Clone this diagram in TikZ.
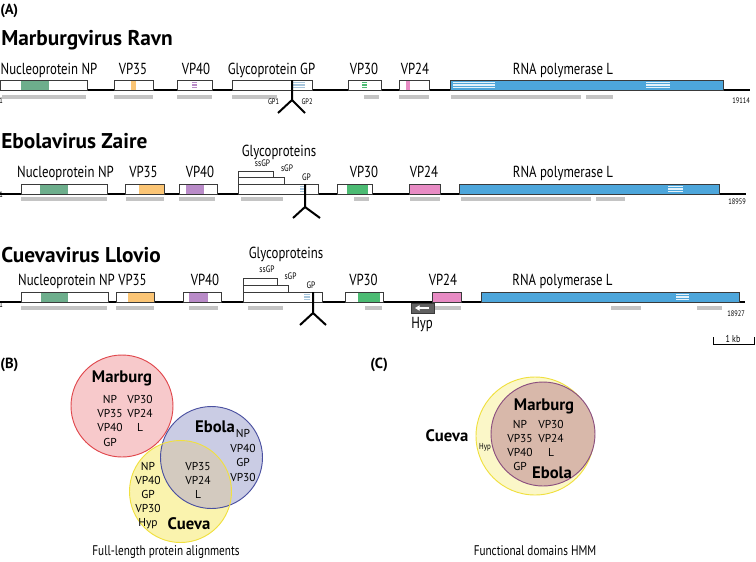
\documentclass[tikz,border=0pt]{standalone}
\usepackage{fontspec}
\setmainfont{PT Sans}
\newfontfamily\cnd{PT Sans}[FakeStretch=0.8]
\usetikzlibrary{arrows.meta}
\definecolor{npg}{HTML}{6DAE8C}
\definecolor{vpo}{HTML}{FBC575}
\definecolor{vpp}{HTML}{B98BC8}
\definecolor{gpb}{HTML}{A8C6DC}
\definecolor{vpg}{HTML}{4CBB73}
\definecolor{vpk}{HTML}{E88BC4}
\definecolor{lbl}{HTML}{4DA6DB}
\definecolor{barc}{HTML}{C4C4C4}
\definecolor{edgec}{HTML}{3A3A3A}
\definecolor{mbfill}{HTML}{F7C9CB}
\definecolor{mbline}{HTML}{E0474C}
\definecolor{ebfill}{HTML}{CACCE4}
\definecolor{ebline}{HTML}{4A50A0}
\definecolor{cvfill}{HTML}{FAF3AE}
\definecolor{cvline}{HTML}{F0E040}
\definecolor{ecfill}{HTML}{D3CABF}
\definecolor{cfill}{HTML}{FBF7C8}
\definecolor{brfill}{HTML}{D8B8AA}
\definecolor{brline}{HTML}{8A4E7E}
\newcommand\stripes[4]{\foreach \sy in {2.5,5,7.5}{\draw[#4,line width=0.8pt] (#1,#3+\sy) -- (#2,#3+\sy);}}
\newcommand\gbar[3]{\draw[graybar] (#1,#3) -- (#2,#3);}
\tikzset{
  gline/.style={line width=0.9pt,draw=black},
  genebox/.style={draw=edgec,line width=0.6pt},
  graybar/.style={draw=barc,line width=2.4pt},
  antib/.style={line width=1.5pt,draw=black},
  titlefont/.style={font=\bfseries\fontsize{16}{18}\selectfont,anchor=base west,inner sep=0pt},
  genelab/.style={font=\cnd\fontsize{12}{14}\selectfont,anchor=base,inner sep=0pt},
  sublab/.style={font=\cnd\fontsize{7}{8}\selectfont,anchor=base,inner sep=0pt},
  tinylab/.style={font=\cnd\fontsize{6}{7}\selectfont,anchor=base,inner sep=0pt},
  vennlab/.style={font=\fontsize{8.6}{10}\selectfont,anchor=base,inner sep=0pt},
  vennbig/.style={font=\bfseries\fontsize{12.5}{15}\selectfont,anchor=base,inner sep=0pt},
  caplab/.style={font=\cnd\fontsize{10.5}{12}\selectfont,anchor=base,inner sep=0pt},
  panellab/.style={font=\bfseries\fontsize{11}{13}\selectfont,anchor=base west,inner sep=0pt},
}
\begin{document}
\begin{tikzpicture}[x=0.75pt,y=-0.75pt]
\useasboundingbox (0,0) rectangle (756,561);
% ---------- (A)
\node[panellab] (pA) at (0,14) {(A)};
% ================= Marburg =================
\node[titlefont] (tM) at (1,45) {Marburgvirus Ravn};
\draw[gline] (0,90) -- (750,90);
% NP
\fill[white] (0,80) rectangle (87,90); \fill[npg] (21,80) rectangle (49,90); \draw[genebox] (0,80) rectangle (87,90);
% VP35
\fill[white] (114,80) rectangle (153,90); \fill[vpo] (131,80) rectangle (136,90); \draw[genebox] (114,80) rectangle (153,90);
% VP40
\fill[white] (177,80) rectangle (212,90); \stripes{192}{197}{80}{vpp} \draw[genebox] (177,80) rectangle (212,90);
% GP
\fill[white] (232,80) rectangle (312,90); \stripes{293}{305}{80}{gpb} \draw[genebox] (232,80) rectangle (312,90);
% VP30
\fill[white] (348,80) rectangle (381,90); \stripes{362}{367}{80}{vpg} \draw[genebox] (348,80) rectangle (381,90);
% VP24
\fill[white] (399,80) rectangle (429,90); \fill[vpk] (406,80) rectangle (410,90); \draw[genebox] (399,80) rectangle (429,90);
% L
\fill[lbl] (450,80) rectangle (723,90); \stripes{453}{495}{80}{white!85!lbl} \stripes{646}{670}{80}{white!85!lbl} \draw[genebox] (450,80) rectangle (723,90);
% bars
\gbar{2}{86}{97} \gbar{114}{153}{97} \gbar{177}{212}{97} \gbar{232}{277}{97} \gbar{364}{379}{97} \gbar{399}{429}{97} \gbar{451}{581}{97} \gbar{586}{613}{97}
% antibody
\coordinate (mA0) at (292,80); \coordinate (mA1) at (292,100); \coordinate (mA2) at (278,113); \coordinate (mA3) at (305,113);
\draw[antib] (mA0) -- (mA1) -- (mA2); \draw[antib] (mA1) -- (mA3);
% labels
\node[genelab] (mNP) at (49,74) {Nucleoprotein NP};
\node[genelab] (m35) at (133,74) {VP35};
\node[genelab] (m40) at (196,74) {VP40};
\node[genelab] (mGP) at (271.5,74) {Glycoprotein GP};
\node[genelab] (m30) at (364,74) {VP30};
\node[genelab] (m24) at (415,74) {VP24};
\node[genelab] (mL) at (563,74) {RNA polymerase L};
\node[tinylab] (mGP1) at (273.5,104) {GP1};
\node[tinylab] (mGP2) at (307,104) {GP2};
\node[tinylab,anchor=base west] (m1) at (-1,103) {1};
\node[tinylab,anchor=base east] (mend) at (750,103) {19114};
% ================= Ebola =================
\node[titlefont] (tE) at (1,148) {Ebolavirus Zaire};
\draw[gline] (0,194) -- (746,194);
\fill[white] (21,184) rectangle (107,194); \fill[npg] (40,184) rectangle (68,194); \draw[genebox] (21,184) rectangle (107,194);
\fill[white] (125,184) rectangle (164,194); \fill[vpo] (139,184) rectangle (164,194); \draw[genebox] (125,184) rectangle (164,194);
\fill[white] (179,184) rectangle (217,194); \fill[vpp] (186,184) rectangle (204,194); \draw[genebox] (179,184) rectangle (217,194);
\draw[genebox] (238,171) rectangle (273,177);
\draw[genebox] (238,177) rectangle (284,184);
\fill[white] (238,184) rectangle (318,194); \stripes{300}{305}{184}{gpb} \draw[genebox] (238,184) rectangle (318,194);
\fill[white] (337,184) rectangle (372,194); \fill[vpg] (347,184) rectangle (368,194); \draw[genebox] (337,184) rectangle (372,194);
\fill[vpk] (409,184) rectangle (440,194); \draw[genebox] (409,184) rectangle (440,194);
\fill[lbl] (459,184) rectangle (719,194); \stripes{668}{683}{184}{white!85!lbl} \draw[genebox] (459,184) rectangle (719,194);
\gbar{21}{107}{199} \gbar{126}{164}{199} \gbar{179}{215}{199} \gbar{241}{283}{199} \gbar{354}{369}{199} \gbar{410}{440}{199} \gbar{461}{591}{199} \gbar{596}{625}{199}
\coordinate (eA0) at (305,184); \coordinate (eA1) at (305,207); \coordinate (eA2) at (293,218); \coordinate (eA3) at (320,218);
\draw[antib] (eA0) -- (eA1) -- (eA2); \draw[antib] (eA1) -- (eA3);
\node[genelab] (eNP) at (65.5,177) {Nucleoprotein NP};
\node[genelab] (e35) at (143.5,177) {VP35};
\node[genelab] (e40) at (200,177) {VP40};
\node[genelab] (eGl) at (279,156) {Glycoproteins};
\node[sublab] (essGP) at (262.5,166) {ssGP};
\node[sublab] (esGP) at (287,171) {sGP};
\node[sublab] (eGP) at (306.5,180) {GP};
\node[genelab] (e30) at (364,177) {VP30};
\node[genelab] (e24) at (424,177) {VP24};
\node[genelab] (eL) at (563,177) {RNA polymerase L};
\node[tinylab,anchor=base west] (e1) at (-1,197) {1};
\node[tinylab,anchor=base east] (eend) at (746,204) {18959};
% ================= Cueva =================
\node[titlefont] (tC) at (1,262) {Cuevavirus Llovio};
\draw[gline] (0,302) -- (745,302);
\fill[white] (21,292) rectangle (108,302); \fill[npg] (41,292) rectangle (68,302); \draw[genebox] (21,292) rectangle (108,302);
\fill[white] (116,292) rectangle (154,302); \fill[vpo] (128,292) rectangle (154,302); \draw[genebox] (116,292) rectangle (154,302);
\fill[white] (183,292) rectangle (221,302); \fill[vpp] (189,292) rectangle (208,302); \draw[genebox] (183,292) rectangle (221,302);
\draw[genebox] (243,278) rectangle (277,285);
\draw[genebox] (243,285) rectangle (288,292);
\fill[white] (243,292) rectangle (322,302); \stripes{304}{310}{292}{gpb} \draw[genebox] (243,292) rectangle (322,302);
\fill[white] (345,292) rectangle (383,302); \fill[vpg] (358,292) rectangle (380,302); \draw[genebox] (345,292) rectangle (383,302);
\fill[vpk] (432,292) rectangle (461,302); \draw[genebox] (432,292) rectangle (461,302);
\fill[lbl] (481,292) rectangle (739,302); \stripes{676}{689}{292}{white!85!lbl} \draw[genebox] (481,292) rectangle (739,302);
% Hyp
\fill[gray!75!black] (411,303) rectangle (434,313); \draw[genebox] (411,303) rectangle (434,313);
\coordinate (hA) at (429,308); \coordinate (hB) at (415,308);
\draw[white,line width=1.2pt,-{Triangle[length=3.5pt,width=4pt]}] (hA) -- (hB);
\gbar{21}{107}{308} \gbar{116}{154}{308} \gbar{189}{218}{308} \gbar{248}{283}{308} \gbar{365}{382}{308} \gbar{435}{461}{308} \gbar{611}{641}{308} \gbar{697}{722}{308}
\coordinate (cA0) at (313,292); \coordinate (cA1) at (313,313); \coordinate (cA2) at (300,325); \coordinate (cA3) at (326,325);
\draw[antib] (cA0) -- (cA1) -- (cA2); \draw[antib] (cA1) -- (cA3);
\node[genelab] (cNP) at (66.5,285) {Nucleoprotein NP};
\node[genelab] (c35) at (132.5,285) {VP35};
\node[genelab] (c40) at (205,285) {VP40};
\node[genelab] (cGl) at (286,258) {Glycoproteins};
\node[sublab] (cssGP) at (267,272.5) {ssGP};
\node[sublab] (csGP) at (290.5,279) {sGP};
\node[sublab] (cGP) at (311,288) {GP};
\node[genelab] (c30) at (363.5,285) {VP30};
\node[genelab] (c24) at (443,285) {VP24};
\node[genelab] (cL) at (562.5,285) {RNA polymerase L};
\node[genelab] (cHyp) at (422,328) {Hyp};
\node[tinylab,anchor=base west] (c1) at (-1,307) {1};
\node[tinylab,anchor=base east] (cend) at (745,316) {18927};
% scale bar
\coordinate (s0) at (713,337); \coordinate (s1) at (713,344.5); \coordinate (s2) at (754,344.5); \coordinate (s3) at (754,337);
\draw[line width=0.6pt] (s0) -- (s1) -- (s2) -- (s3);
\node[sublab,font=\cnd\fontsize{7.5}{9}\selectfont] (kb) at (733,342) {1 kb};
% ================= (B) =================
\node[panellab] (pB) at (0,368) {(B)};
\fill[mbfill] (122,406) circle (51);
\fill[ebfill] (211.5,457.5) circle (51);
\fill[cvfill] (180.5,491.5) circle (51);
\begin{scope}
\clip (180.5,491.5) circle (51);
\fill[ecfill] (211.5,457.5) circle (51);
\end{scope}
\draw[mbline,line width=0.7pt] (122,406) circle (51);
\draw[ebline,line width=0.7pt] (211.5,457.5) circle (51);
\draw[cvline,line width=0.7pt] (180.5,491.5) circle (51);
\node[vennbig] (bM) at (122,382) {Marburg};
\node[vennlab] (bM1) at (110,403) {NP};
\node[vennlab] (bM2) at (140,403) {VP30};
\node[vennlab] (bM3) at (110,417) {VP35};
\node[vennlab] (bM4) at (140,417) {VP24};
\node[vennlab] (bM5) at (110,431) {VP40};
\node[vennlab] (bM6) at (140,431) {L};
\node[vennlab] (bM7) at (110,446) {GP};
\node[vennbig] (bE) at (215,432) {Ebola};
\node[vennlab] (bE1) at (243,437) {NP};
\node[vennlab] (bE2) at (243,452) {VP40};
\node[vennlab] (bE3) at (243,466) {GP};
\node[vennlab] (bE4) at (243,481) {VP30};
\node[vennlab] (bX1) at (198,470) {VP35};
\node[vennlab] (bX2) at (198,484) {VP24};
\node[vennlab] (bX3) at (198,498) {L};
\node[vennlab] (bC1) at (148,470) {NP};
\node[vennlab] (bC2) at (148,484) {VP40};
\node[vennlab] (bC3) at (148,498) {GP};
\node[vennlab] (bC4) at (148,512) {VP30};
\node[vennlab] (bC5) at (148,526) {Hyp};
\node[vennbig] (bC) at (189,529) {Cueva};
\node[caplab] (bcap) at (166,555) {Full-length protein alignments};
% ================= (C) =================
\node[panellab] (pC) at (370,368) {(C)};
\fill[cfill] (535,436) circle (59);
\draw[cvline,line width=0.7pt] (535,436) circle (59);
\fill[brfill] (543,434) circle (52);
\draw[brline,line width=0.7pt] (543,434) circle (52);
\node[vennbig] (cM) at (544,410) {Marburg};
\node[vennlab] (cv1) at (520,428) {NP};
\node[vennlab] (cv2) at (551,428) {VP30};
\node[vennlab] (cv3) at (520,442) {VP35};
\node[vennlab] (cv4) at (551,442) {VP24};
\node[vennlab] (cv5) at (520,456) {VP40};
\node[vennlab] (cv6) at (551,456) {L};
\node[vennlab] (cv7) at (520,470) {GP};
\node[vennbig] (cE) at (552,478) {Ebola};
\node[vennbig] (cC) at (447,441) {Cueva};
\node[tinylab,font=\cnd\fontsize{6.5}{7}\selectfont] (cH) at (485,449) {Hyp};
\node[caplab] (ccap) at (535,555) {Functional domains HMM};
\end{tikzpicture}
\end{document}
